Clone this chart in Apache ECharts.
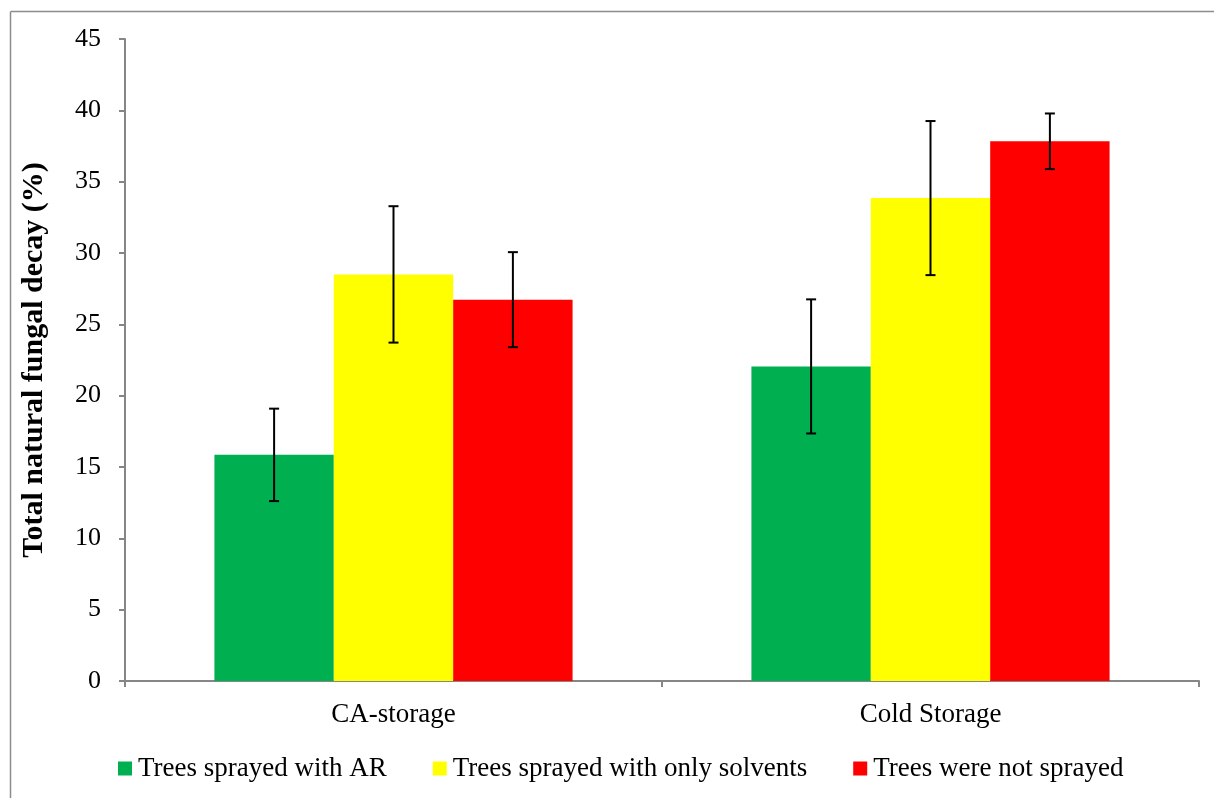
<!DOCTYPE html>
<html>
<head>
<meta charset="utf-8">
<script src="https://cdn.jsdelivr.net/npm/echarts@6/dist/echarts.min.js"></script>
<style>html,body{margin:0;padding:0;background:#fff}#c{width:1214px;height:798px}</style>
</head>
<body>
<div id="c"></div>
<script>
const categories = ['CA-storage', 'Cold Storage'];
const seriesNames = ['Trees sprayed with AR', 'Trees sprayed with only solvents', 'Trees were not sprayed'];
const sprayedAR = [15.85, 22.05];
const onlySolvents = [28.5, 33.85];
const notSprayed = [26.73, 37.83];
const errAR = [3.24, 4.7];
const errSolvents = [4.78, 5.4];
const errNotSprayed = [3.33, 1.95];
const colors = ['#00B050', '#FFFF00', '#FF0000'];

const values = [sprayedAR, onlySolvents, notSprayed];
const errs = [errAR, errSolvents, errNotSprayed];
const FONT = '"Liberation Serif", "Times New Roman", serif';

const chart = echarts.init(document.getElementById('c'));

const barSeries = seriesNames.map((n, i) => ({
  name: n, type: 'bar', data: values[i],
  barGap: '0%', barCategoryGap: '33.3%',
  itemStyle: { color: colors[i] }
}));

const errData = [];
for (let i = 0; i < 3; i++) for (let c = 0; c < categories.length; c++) {
  errData.push([c, values[i][c] - errs[i][c], values[i][c] + errs[i][c], i]);
}

const errSeries = {
  type: 'custom', name: 'err', z: 10, silent: true,
  renderItem: function (params, api) {
    const c = api.value(0), lo = api.value(1), hi = api.value(2), idx = api.value(3);
    const p0 = api.coord([c, 0]);
    const bw = api.size([1, 0])[0];
    const groupW = bw * (1 - 0.333);
    const barW = groupW / 3;
    const x = p0[0] - groupW / 2 + barW * (idx + 0.5);
    const yLo = api.coord([c, lo])[1], yHi = api.coord([c, hi])[1];
    const cap = 5;
    const st = { stroke: '#000', lineWidth: 2 };
    return { type: 'group', children: [
      { type: 'line', shape: { x1: x, y1: yLo, x2: x, y2: yHi }, style: st },
      { type: 'line', shape: { x1: x - cap, y1: yLo, x2: x + cap, y2: yLo }, style: st },
      { type: 'line', shape: { x1: x - cap, y1: yHi, x2: x + cap, y2: yHi }, style: st }
    ]};
  },
  data: errData
};

chart.setOption({
  animation: false,
  backgroundColor: '#fff',
  textStyle: { fontFamily: FONT },
  grid: { left: 125, right: 15, top: 39, bottom: 117 },
  graphic: [
    { type: 'line', shape: { x1: 10.5, y1: 11.5, x2: 1214, y2: 11.5 }, style: { stroke: '#8c8c8c', lineWidth: 1.5 } },
    { type: 'line', shape: { x1: 10.5, y1: 11.5, x2: 10.5, y2: 798 }, style: { stroke: '#8c8c8c', lineWidth: 1.5 } }
  ],
  legend: {
    data: seriesNames, left: 113, top: 750,
    itemWidth: 14, itemHeight: 14, itemGap: 46, icon: 'rect',
    textStyle: { fontFamily: FONT, fontSize: 27, color: '#000', padding: [0, 0, 0, 1] }
  },
  xAxis: {
    type: 'category', data: categories,
    axisLine: { lineStyle: { color: '#868686', width: 2 } },
    axisTick: { show: true, length: 6, lineStyle: { color: '#868686', width: 2 }, alignWithLabel: false },
    axisLabel: { fontFamily: FONT, fontSize: 27, color: '#000', margin: 20 }
  },
  yAxis: {
    type: 'value', min: 0, max: 45, interval: 5,
    name: 'Total natural fungal decay (%)', nameLocation: 'middle', nameGap: 76,
    nameTextStyle: { fontFamily: FONT, fontSize: 30, fontWeight: 'bold', color: '#000' },
    axisLine: { show: true, lineStyle: { color: '#868686', width: 2 } },
    axisTick: { show: true, length: 6, lineStyle: { color: '#868686', width: 2 } },
    splitLine: { show: false },
    axisLabel: { fontFamily: FONT, fontSize: 26, color: '#000', margin: 24 }
  },
  series: barSeries.concat([errSeries])
});
</script>
</body>
</html>
